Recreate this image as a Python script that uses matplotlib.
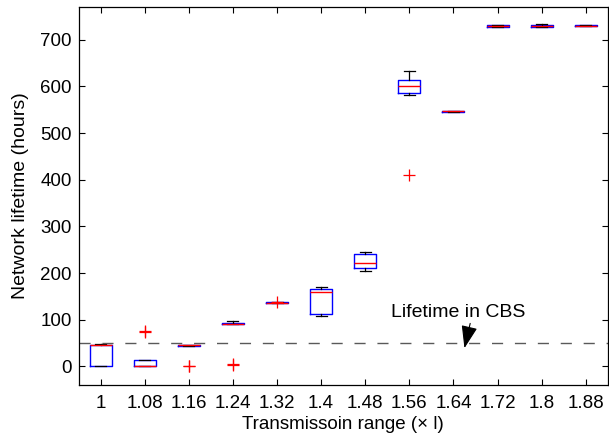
import matplotlib
matplotlib.use('Agg')
import matplotlib.pyplot as plt
import numpy as np

plt.rcParams['font.family'] = ['Liberation Sans', 'DejaVu Sans']

# transmission range multiples
labels = ['1', '1.08', '1.16', '1.24', '1.32', '1.4', '1.48', '1.56',
          '1.64', '1.72', '1.8', '1.88']

# box statistics (hours)
whislo = [0, 0, 44, 90, 136, 107, 205, 581, 546, 727, 728, 729]
q1 = [0, 0, 44, 90, 136, 112, 210, 586, 546, 727, 728, 729]
med = [45, 0, 45, 91, 136, 159, 222, 600, 547, 729, 730, 730]
q3 = [45, 13, 46, 93, 137, 166, 241, 613, 548, 731, 732, 731]
whishi = [47, 13, 46, 97, 137, 171, 245, 632, 548, 731, 733, 731]
fliers = [[], [73, 76], [0, 1], [2, 4], [137], [], [], [411], [], [], [], []]

cbs_lifetime = 50

stats = []
for i in range(len(labels)):
    stats.append(dict(med=med[i], q1=q1[i], q3=q3[i], whislo=whislo[i],
                      whishi=whishi[i], fliers=fliers[i]))

fig = plt.figure(figsize=(6.09, 4.40), dpi=100)
ax = fig.add_axes([0.129, 0.125, 0.869, 0.86])

pos = np.arange(1, len(labels) + 1)
ax.bxp(stats, positions=pos, widths=0.5, capwidths=0.25,
       boxprops=dict(color='blue', linewidth=1.0),
       medianprops=dict(color='red', linewidth=1.0),
       whiskerprops=dict(color='black', linewidth=0.9),
       capprops=dict(color='black', linewidth=0.9),
       flierprops=dict(marker='+', markeredgecolor='red', markersize=9,
                       markeredgewidth=0.9, linestyle='none'))

ax.axhline(cbs_lifetime, color='0.35', linestyle=(0, (8, 8.5)), linewidth=1.0)

ax.annotate('', xy=(9.25, 39), xytext=(9.38, 92),
            arrowprops=dict(arrowstyle='-|>,head_length=1.4,head_width=0.5',
                            color='black', lw=0.8, shrinkA=0, shrinkB=0))
ax.text(9.1, 116, 'Lifetime in CBS', ha='center', va='center', fontsize=14)

ax.set_xlim(0.5, 12.5)
ax.set_ylim(-40, 771)
ax.set_xticks(pos)
ax.set_xticklabels(labels)
ax.set_yticks(np.arange(0, 701, 100))
ax.tick_params(direction='in', top=True, right=True, labelsize=13.5,
               length=4, width=0.8)
ax.tick_params(axis='x', pad=7)
ax.tick_params(axis='y', pad=5)
for s in ax.spines.values():
    s.set_linewidth(0.9)

ax.set_xlabel('Transmissoin range (\u00d7 l)', fontsize=13.5, labelpad=3)
ax.set_ylabel('Network lifetime (hours)', fontsize=14, labelpad=8)

fig.savefig('out.png', dpi=100)
